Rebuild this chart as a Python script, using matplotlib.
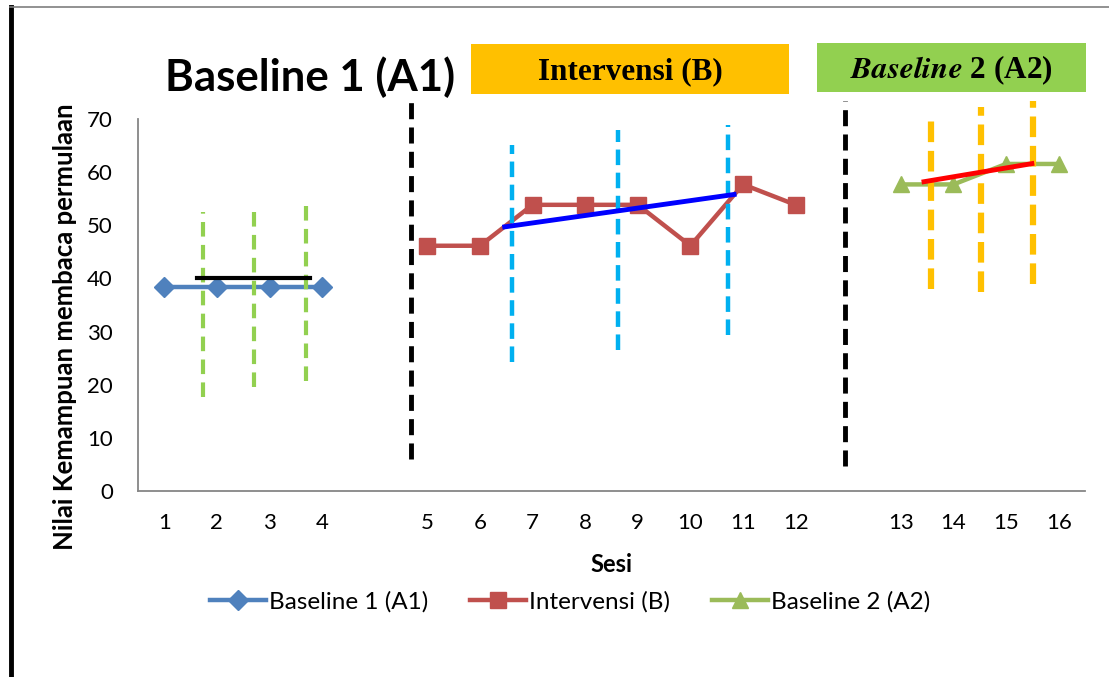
import numpy as np
import matplotlib.pyplot as plt
from matplotlib.lines import Line2D
from matplotlib.patches import Rectangle

plt.rcParams['font.family'] = ['Lato', 'DejaVu Sans']

# sesi pada sumbu x, slot kosong memisahkan fase
sesi_labels = ['1', '2', '3', '4', '', '5', '6', '7', '8', '9', '10', '11', '12', '',
               '13', '14', '15', '16']
slot_a1 = [0, 1, 2, 3]
slot_b = [5, 6, 7, 8, 9, 10, 11, 12]
slot_a2 = [14, 15, 16, 17]

nilai_a1 = [38.46, 38.46, 38.46, 38.46]
nilai_b = [46.15, 46.15, 53.85, 53.85, 53.85, 46.15, 57.69, 53.85]
nilai_a2 = [57.69, 57.69, 61.54, 61.54]

# garis kecenderungan tiap fase (x awal, x akhir, y awal, y akhir)
tren_a1 = ([0.63, 2.77], [40.0, 40.0])
tren_b = ([6.47, 10.83], [49.7, 55.8])
tren_a2 = ([14.44, 16.49], [58.2, 61.6])

# garis pembatas fase
batas_x = [4.69, 12.94]
batas_y = [(6.0, 73.6), (4.7, 73.3)]

# garis bantu rentang stabilitas
bantu_a1_x = [0.74, 1.71, 2.69]
bantu_a1_y = [(17.7, 52.5), (19.6, 53.5), (20.7, 54.2)]
bantu_b_x = [6.6, 8.63, 10.72]
bantu_b_y = [(24.3, 65.2), (26.6, 68.0), (29.4, 68.9)]
bantu_a2_x = [14.57, 15.52, 16.51]
bantu_a2_y = [(38.0, 71.0), (37.5, 72.3), (39.0, 73.3)]

fig = plt.figure(figsize=(11.09, 6.77), dpi=100)
ax = fig.add_axes([138 / 1109, 1 - 491 / 677, (1085 - 138) / 1109, (491 - 119) / 677])

c_a1, c_b, c_a2 = '#4F81BD', '#C0504D', '#9BBB59'
ax.plot(slot_a1, nilai_a1, color=c_a1, lw=3.2, marker='D', ms=10, label='Baseline 1 (A1)', zorder=3)
ax.plot(slot_b, nilai_b, color=c_b, lw=3.2, marker='s', ms=11, label='Intervensi (B)', zorder=3)
ax.plot(slot_a2, nilai_a2, color=c_a2, lw=3.2, marker='^', ms=12, label='Baseline 2 (A2)', zorder=3)

for x, (y0, y1) in zip(bantu_a1_x, bantu_a1_y):
    ax.plot([x, x], [y0, y1], color='#92D050', lw=3, ls=(0, (3.5, 2)), zorder=4)
for x, (y0, y1) in zip(bantu_b_x, bantu_b_y):
    ax.plot([x, x], [y0, y1], color='#00B0F0', lw=3.2, ls=(0, (3.5, 1.7)), zorder=4,
            clip_on=False)
for x, (y0, y1) in zip(bantu_a2_x, bantu_a2_y):
    ax.plot([x, x], [y0, y1], color='#FFC000', lw=4.5, ls=(0, (3.3, 1.4)), zorder=4,
            clip_on=False)
for x, (y0, y1) in zip(batas_x, batas_y):
    ax.plot([x, x], [y0, y1], color='black', lw=3.5, ls=(0, (3.3, 1.7)), zorder=4,
            clip_on=False)

ax.plot(*tren_a1, color='black', lw=3, zorder=5)
ax.plot(*tren_b, color='#0000FF', lw=3.5, zorder=5)
ax.plot(*tren_a2, color='#FF0000', lw=3.5, zorder=5)

ax.set_xlim(-0.5, 17.5)
ax.set_ylim(0, 70)
ax.set_yticks(np.arange(0, 71, 10))
ax.set_xticks(np.arange(len(sesi_labels)))
ax.set_xticklabels(sesi_labels)
ax.tick_params(length=0, labelsize=16, pad=16)
ax.tick_params(axis='y', pad=18)
for s in ['top', 'right']:
    ax.spines[s].set_visible(False)
for s in ['left', 'bottom']:
    ax.spines[s].set_color('#868686')
    ax.spines[s].set_linewidth(1.3)

fig.text(611 / 1109, 1 - 565 / 677, 'Sesi', ha='center', va='center', fontsize=17,
         fontweight='bold')
fig.text(65 / 1109, 1 - 327 / 677, 'Nilai Kemampuan membaca permulaan', rotation=90,
         ha='center', va='center', fontsize=18.5, fontweight='bold')

fig.legend(loc='center', bbox_to_anchor=(570 / 1109, 1 - 602 / 677), ncol=3, frameon=False,
           fontsize=17.5, handlelength=2.3, handletextpad=0.1, columnspacing=1.75)

# judul fase
fig.text(165 / 1109, 1 - 77 / 677, 'Baseline 1 (A1)', ha='left', va='center', fontsize=31.5,
         fontweight='bold')
fig.patches.append(Rectangle((471 / 1109, 1 - 94 / 677), (789 - 471) / 1109, 50 / 677,
                             transform=fig.transFigure, facecolor='#FFC000', edgecolor='none'))
fig.text(630 / 1109, 1 - 72 / 677, 'Intervensi (B)', ha='center', va='center', fontsize=22.5,
         fontweight='bold', family='Liberation Serif')
fig.patches.append(Rectangle((817 / 1109, 1 - 92 / 677), (1086 - 817) / 1109, 49 / 677,
                             transform=fig.transFigure, facecolor='#92D050', edgecolor='none'))
fig.text(951 / 1109, 1 - 70 / 677, r'$\mathbfit{Baseline}$ 2 (A2)', ha='center', va='center',
         fontsize=22.5, fontweight='bold', family='Liberation Serif',
         math_fontfamily='stix')

# bingkai halaman
fig.add_artist(Line2D([11 / 1109, 11 / 1109], [0, 1 - 7 / 677], color='black', lw=3.5,
                      transform=fig.transFigure))
fig.add_artist(Line2D([10 / 1109, 1], [1 - 7 / 677, 1 - 7 / 677], color='#7F7F7F', lw=1.2,
                      transform=fig.transFigure))

fig.savefig('out.png', dpi=100)
